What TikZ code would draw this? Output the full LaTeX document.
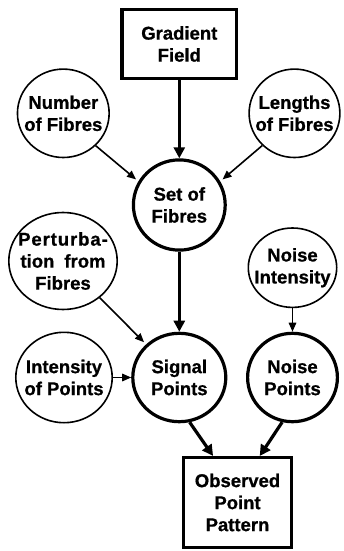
\documentclass[tikz,border=0pt]{standalone}
\usepackage{fontspec}
\setmainfont{Liberation Sans}[BoldFeatures={FakeBold=0.8}]
\usetikzlibrary{shapes.geometric,arrows.meta,calc}
\begin{document}
\begin{tikzpicture}[x=1pt,y=-1pt,
  txt/.style={font=\fontsize{18.5}{22}\selectfont\bfseries, align=center, inner sep=0pt},
  thinell/.style={ellipse, draw, line width=1.6pt, inner sep=0pt},
  thickell/.style={ellipse, draw, line width=3.2pt, inner sep=0pt},
  boxnode/.style={txt, rectangle, draw, line width=3.2pt},
  thinarr/.style={line width=1.6pt, -{Triangle[length=9pt,width=7.5pt]}},
  thickarr/.style={line width=3.2pt, -{Triangle[length=11pt,width=11pt]}}
]
\useasboundingbox (0,0) rectangle (343,551);

\node[boxnode, minimum width=114.8pt, minimum height=68.8pt] (grad) at (179.3,44) {Gradient\\Field};

\node[thinell, minimum width=91.7pt, minimum height=88.4pt] (num) at (63.3,113.3) {};
\node[txt] (numt) at (num) {Number\\of Fibres};

\node[thinell, minimum width=90.8pt, minimum height=88.4pt] (len) at (294.5,113.3) {};
\node[txt] (lent) at (len) {Lengths\\of Fibres};

\node[thickell, minimum width=91.8pt, minimum height=90.2pt] (set) at (179.3,205) {};
\node[txt] (sett) at (set) {Set of\\Fibres};

\node[thinell, minimum width=108.4pt, minimum height=97pt] (pert) at (63,261) {};
\node[txt] (pertt) at (pert) {{\addfontfeature{LetterSpace=5}Perturba-}\\tion\hspace{10pt}from\\Fibres};

\node[thinell, minimum width=88.4pt, minimum height=79.4pt] (nint) at (292.5,267.7) {};
\node[txt] (nintt) at (nint) {Noise\\Intensity};

\node[thinell, minimum width=96.4pt, minimum height=90.4pt] (ipts) at (64,377.5) {};
\node[txt] (iptst) at (ipts) {Intensity\\of Points};

\node[thickell, minimum width=93pt, minimum height=88.4pt] (sig) at (179.3,377.5) {};
\node[txt] (sigt) at (sig) {Signal\\Points};

\node[thickell, minimum width=89.8pt, minimum height=88.4pt] (npts) at (292.5,377.5) {};
\node[txt] (nptst) at (npts) {Noise\\Points};

\node[boxnode, minimum width=107.8pt, minimum height=89.8pt] (obs) at (237.5,502.5) {Observed\\Point\\Pattern};

\coordinate (obsA) at ($(obs.north west)!0.28!(obs.north east)$);
\coordinate (obsB) at ($(obs.north west)!0.70!(obs.north east)$);

\draw[thickarr] (grad.south) -- (set.north);
\draw[thinarr, shorten >=3pt] (num.-45) -- (set.150);
\draw[thinarr, shorten >=3pt] (len.-135) -- (set.30);
\draw[thickarr] (set.south) -- (sig.north);
\draw[thinarr, shorten >=3pt] (pert.-45) -- (sig.135);
\draw[thinarr] (ipts.east) -- (sig.west);
\draw[thinarr] (nint.south) -- (npts.north);
\draw[thickarr] (sig.-77) -- (obsA);
\draw[thickarr] (npts.-103) -- (obsB);
\end{tikzpicture}
\end{document}
